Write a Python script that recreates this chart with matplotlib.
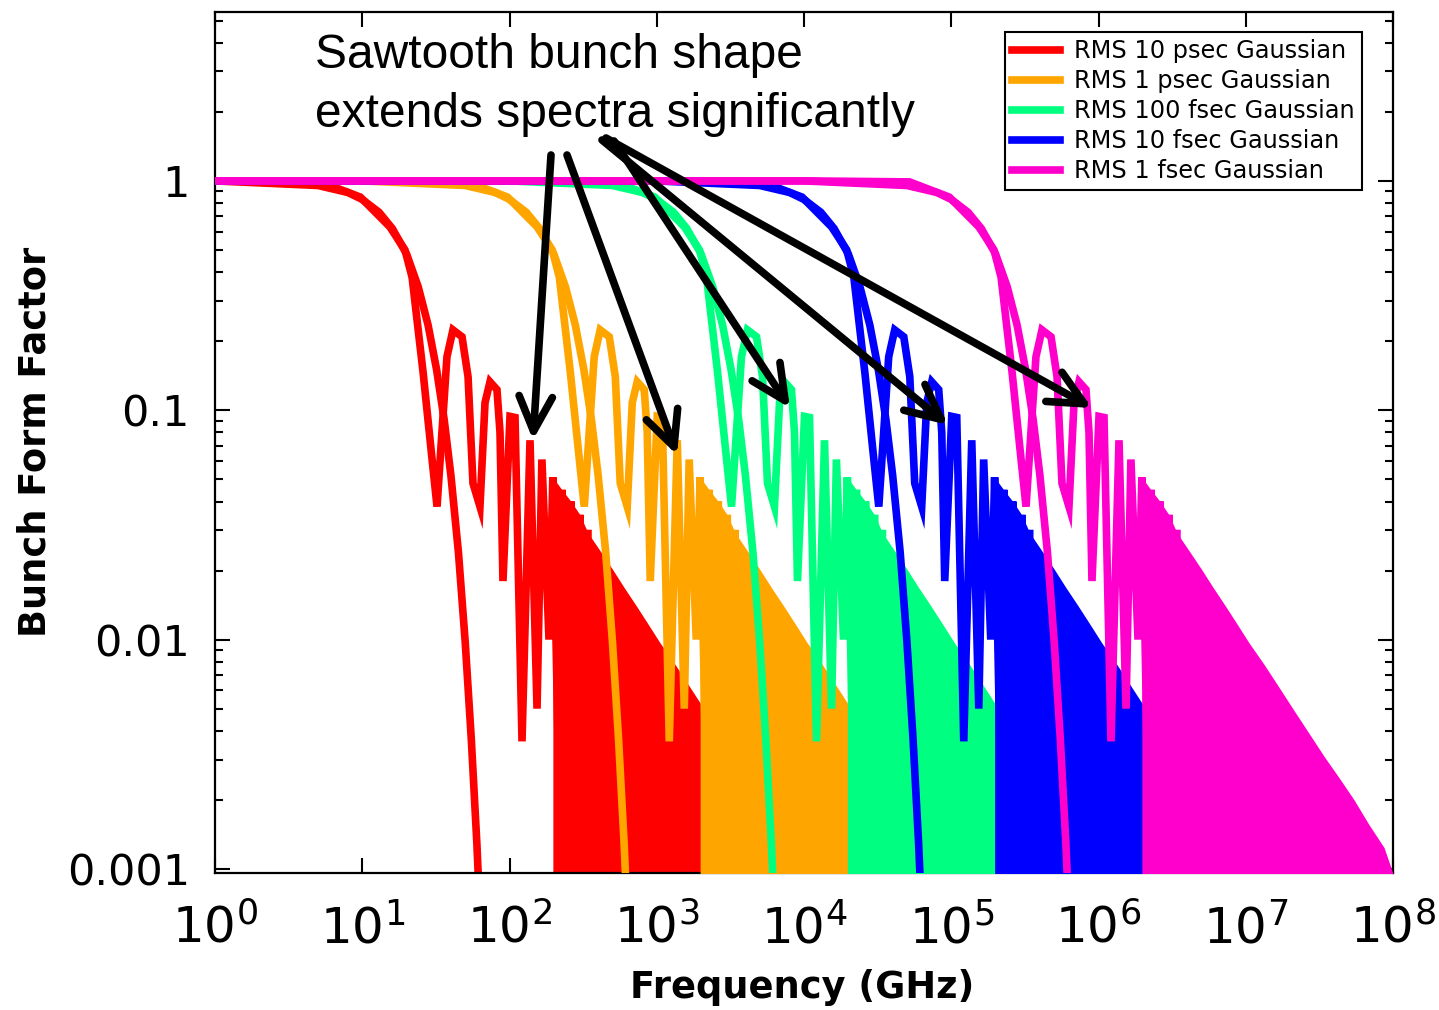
import matplotlib.pyplot as plt
from matplotlib.patches import FancyArrowPatch
from matplotlib.lines import Line2D
from matplotlib.ticker import NullFormatter

# ------------------------------------------------------------
# data (GHz / form factor)
# the 10 psec curves are read; the shorter bunches are the same
# shapes moved one decade up in frequency per decade of RMS length
# ------------------------------------------------------------
labels = ["RMS 10 psec Gaussian", "RMS 1 psec Gaussian", "RMS 100 fsec Gaussian",
          "RMS 10 fsec Gaussian", "RMS 1 fsec Gaussian"]
colors = ["#ff0000", "#ffa500", "#00ff80", "#0000ff", "#ff00cc"]
freq_shift = [1, 10, 100, 1000, 10000]

# Gaussian bunch form factor, 10 psec
gauss_f = [1, 5, 8, 10, 13, 16, 20, 24, 28, 32, 36, 40, 45, 50, 55, 60, 64]
gauss_v = [1.0, 0.955, 0.89, 0.83, 0.73, 0.62, 0.48, 0.345, 0.235, 0.15,
           0.091, 0.052, 0.024, 0.0098, 0.0037, 0.0013, 0.0005]

# sawtooth bunch form factor, resolved oscillations, 10 psec
saw_f = [1, 5.2, 9.7, 15.4, 19.5, 21.8, 25.9, 29.8, 32.2, 37.6, 41.3, 47.6,
         52.3, 56.5, 63.0, 68.2, 73.7, 82.2, 86.2, 90.3, 100.8, 109, 121.6,
         137.8, 153.8, 166, 185.5, 197, 213.5, 227, 245.6, 261.6, 282.9, 301,
         330.7, 341]
saw_v = [1.0, 0.99, 0.85, 0.63, 0.50, 0.38, 0.146, 0.061, 0.038, 0.171, 0.224,
         0.209, 0.14, 0.048, 0.038, 0.108, 0.133, 0.123, 0.080, 0.018, 0.094,
         0.093, 0.0036, 0.074, 0.0050, 0.061, 0.010, 0.051, 0.0036, 0.045,
         0.0012, 0.040, 0.0050, 0.035, 0.0009, 0.029]

# sawtooth, unresolved part: upper edge of the filled-looking band
env_f = [197, 227, 262, 301, 341, 412, 497, 599, 723, 872, 1050, 1330, 1680,
         2130, 2690, 3400, 4300, 5440, 6870, 8690, 11000]
env_v = [0.051, 0.045, 0.040, 0.035, 0.0292, 0.0244, 0.0204, 0.0169, 0.0141,
         0.0117, 0.0097, 0.0078, 0.0062, 0.0049, 0.0039, 0.0031, 0.0025,
         0.0020, 0.00156, 0.00124, 0.0008]

xtick_vals = [1e0, 1e1, 1e2, 1e3, 1e4, 1e5, 1e6, 1e7, 1e8]
xtick_text = [r"$\mathdefault{10^{%d}}$" % n for n in range(9)]
ytick_vals = [0.001, 0.01, 0.1, 1]
ytick_text = ["0.001", "0.01", "0.1", "1"]

note_lines = ["Sawtooth bunch shape", "extends spectra significantly"]

# ------------------------------------------------------------
W, H = 1439, 1010


def px(x, y):
    """pixel position of the reference -> figure fraction"""
    return (x / W, 1 - y / H)


def shifted(fs, vs, s):
    # move the curve up in frequency, keep it flat at the plot's left edge
    xs = [f * s for f in fs]
    if s > 1:
        return [fs[0]] + xs, [vs[0]] + list(vs)
    return xs, list(vs)


fig = plt.figure(figsize=(W / 100, H / 100), dpi=100)
ax = fig.add_axes([215 / W, 1 - 873 / H, (1393 - 215) / W, (873 - 12) / H])

LW = 5.5
for k, (col, s) in enumerate(zip(colors, freq_shift)):
    z = 2 + k
    ax.plot(*shifted(gauss_f, gauss_v, s), color=col, lw=LW,
            solid_joinstyle="miter", zorder=z)
    ax.plot(*shifted(saw_f, saw_v, s), color=col, lw=LW,
            solid_joinstyle="miter", zorder=z)
    ax.fill_between([f * s for f in env_f], 0.0003, env_v, color=col, lw=0,
                    zorder=z)

ax.set_xscale("log")
ax.set_yscale("log")
ax.set_xlim(1, 1e8)
ax.set_ylim(0.00096, 5.45)

ax.set_xticks(xtick_vals)
ax.set_xticklabels(xtick_text)
ax.set_yticks(ytick_vals)
ax.set_yticklabels(ytick_text)
ax.xaxis.set_minor_formatter(NullFormatter())
ax.yaxis.set_minor_formatter(NullFormatter())

ax.tick_params(which="both", direction="in", top=True, right=True, width=1.5)
ax.tick_params(which="major", length=11)
ax.tick_params(which="minor", length=5.5)
ax.tick_params(axis="y", labelsize=31, pad=18)
ax.tick_params(axis="x", labelsize=36, pad=22)
for sp in ax.spines.values():
    sp.set_linewidth(1.6)

fig.text(*px(802, 988), "Frequency (GHz)", ha="center", va="center",
         fontsize=26.5, fontweight="bold")
fig.text(*px(35, 442), "Bunch Form Factor", ha="center", va="center",
         rotation=90, fontsize=26.5, fontweight="bold")

# legend
handles = [Line2D([], [], color=c, lw=LW) for c in colors]
leg = ax.legend(handles, labels, loc="upper right",
                bbox_to_anchor=(0.9737, 0.9768), borderaxespad=0,
                fontsize=17.3, handlelength=2.0, handletextpad=0.6,
                labelspacing=0.25, borderpad=0.3, fancybox=False,
                framealpha=1, edgecolor="black")
leg.get_frame().set_linewidth(1.5)
leg.set_zorder(20)

# annotation
fig.text(*px(315, 68), note_lines[0], family="Liberation Sans",
         fontsize=34.5, va="baseline", ha="left")
fig.text(*px(315, 127), note_lines[1], family="Liberation Sans",
         fontsize=34.5, va="baseline", ha="left")

arrows = [((551, 155), (533, 440)),
          ((567, 155), (677, 455)),
          ((614, 141), (790, 408)),
          ((602, 140), (948, 425)),
          ((606, 138), (1092, 408))]
for tail, tip in arrows:
    a = FancyArrowPatch(px(*tail), px(*tip), transform=fig.transFigure,
                        arrowstyle="->,head_length=25,head_width=12",
                        mutation_scale=1, lw=5.5, color="black",
                        capstyle="round", joinstyle="round",
                        shrinkA=0, shrinkB=0, zorder=30)
    fig.patches.append(a)

fig.savefig("out.png", dpi=100)
